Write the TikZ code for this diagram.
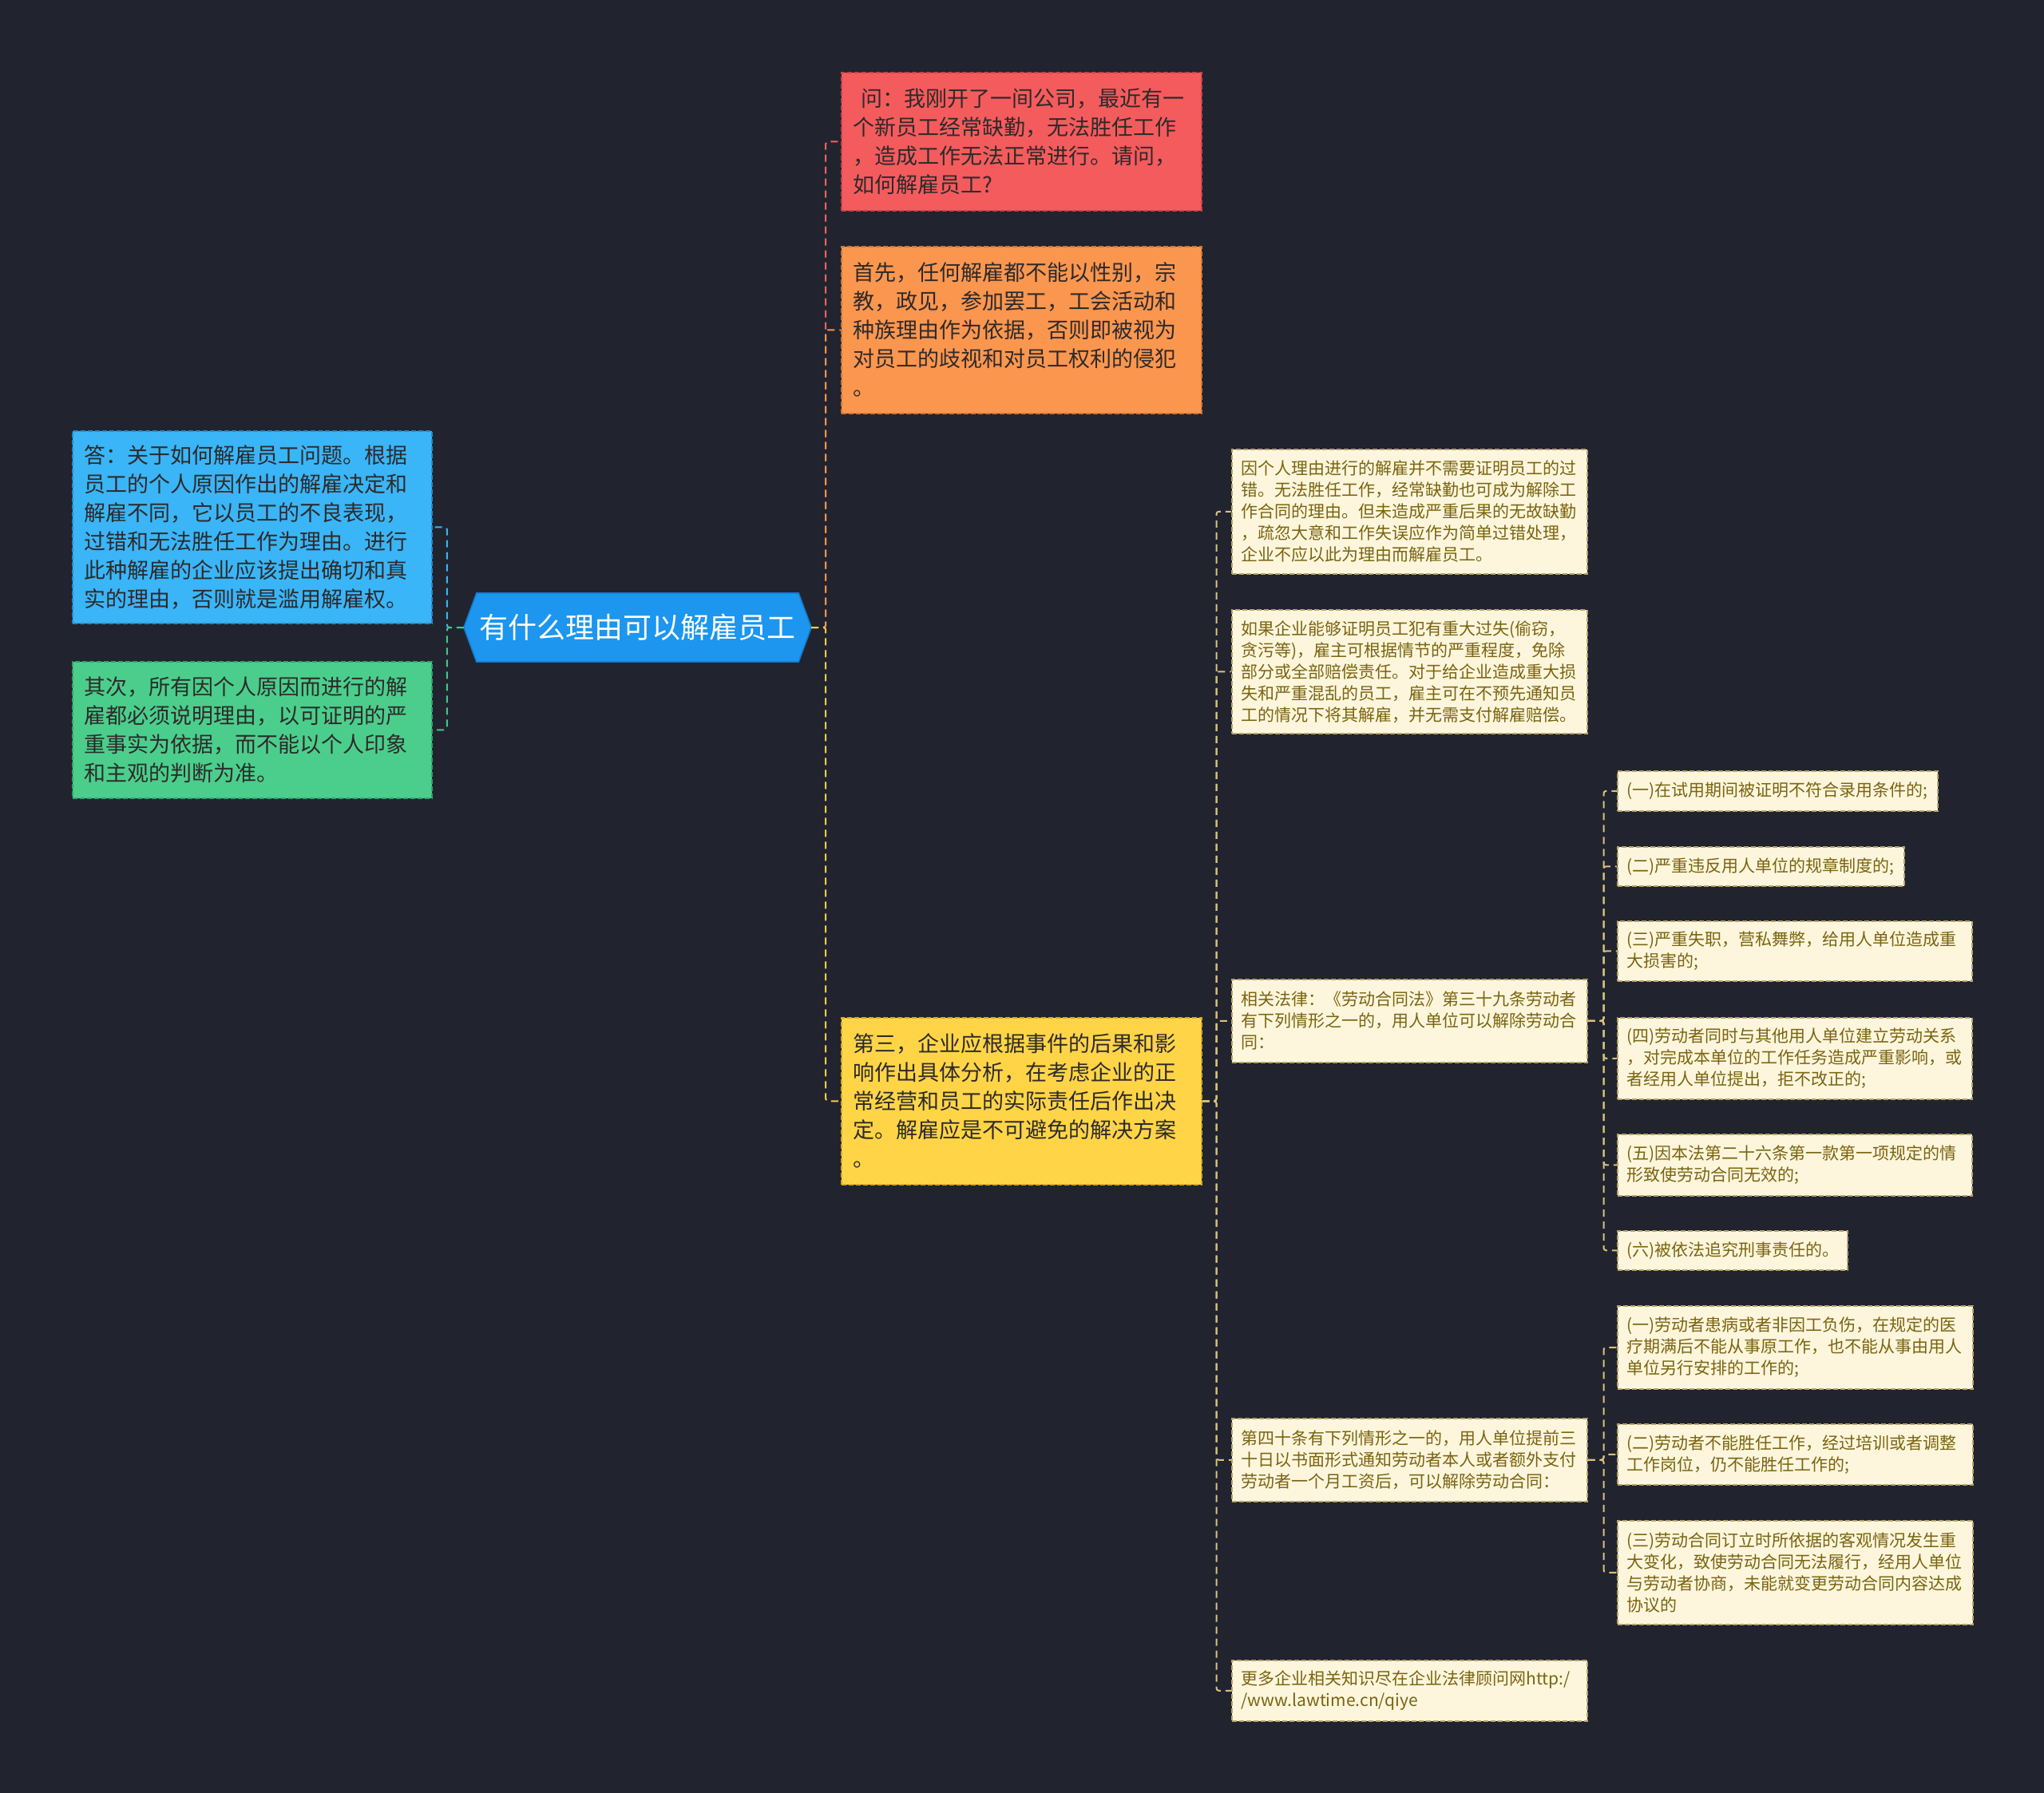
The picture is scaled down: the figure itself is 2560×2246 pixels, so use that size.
\documentclass[tikz,border=0pt]{standalone}
\usepackage{fontspec}
\newfontfamily\cjk{Noto Sans CJK SC}
\usetikzlibrary{backgrounds}
\definecolor{bgc}{HTML}{21242F}
\definecolor{redf}{HTML}{F45B5D}
\definecolor{redd}{HTML}{C94446}
\definecolor{orf}{HTML}{FB964F}
\definecolor{ord}{HTML}{D27634}
\definecolor{yef}{HTML}{FFD547}
\definecolor{yed}{HTML}{D4AA28}
\definecolor{blf}{HTML}{3AB5F7}
\definecolor{bld}{HTML}{2389CC}
\definecolor{grf}{HTML}{4BCE8C}
\definecolor{grd}{HTML}{30A36B}
\definecolor{rootf}{HTML}{1C96EF}
\definecolor{rootd}{HTML}{1479C8}
\definecolor{crf}{HTML}{FDF6DD}
\definecolor{crd}{HTML}{B8A36A}
\definecolor{crt}{HTML}{7A6410}
\definecolor{dkt}{HTML}{2D2A2A}
\definecolor{redc}{HTML}{F06262}
\definecolor{orc}{HTML}{F39450}
\definecolor{yec}{HTML}{F5CC45}
\definecolor{blc}{HTML}{3AB4F5}
\definecolor{grc}{HTML}{45C585}
\definecolor{crc}{HTML}{D9C27C}
\begin{document}
\begin{tikzpicture}[x=1pt,y=-1pt,
  boxbase/.style={rectangle, anchor=north west, inner xsep=15pt, inner ysep=3pt, align=left, line width=1.5pt, dash pattern=on 6pt off 3pt},
  bigtext/.style={font=\cjk\fontsize{27}{36}\selectfont, text=dkt},
  smalltext/.style={font=\cjk\fontsize{21}{27}\selectfont, text=crt},
  redbox/.style={boxbase, bigtext, fill=redf, draw=redd},
  orbox/.style={boxbase, bigtext, fill=orf, draw=ord},
  yebox/.style={boxbase, bigtext, fill=yef, draw=yed},
  blbox/.style={boxbase, bigtext, fill=blf, draw=bld},
  grbox/.style={boxbase, bigtext, fill=grf, draw=grd},
  crbox/.style={boxbase, smalltext, fill=crf, draw=crd, inner xsep=12pt},
  rootnode/.style={rectangle, inner sep=0pt, font=\cjk\fontsize{36}{42}\selectfont, text=white},
  conn/.style={line width=2pt, dash pattern=on 9pt off 6pt, rounded corners=3pt}
]
\begin{pgfonlayer}{background}
\fill[bgc] (0,0) rectangle (2560,2246);
\end{pgfonlayer}
\useasboundingbox (0,0) rectangle (2560,2246);

% root
\node[rootnode, minimum width=435pt, minimum height=86pt] (root) at (798.5,786) {有什么理由可以解雇员工};
\begin{pgfonlayer}{background}
\filldraw[fill=rootf, draw=rootd, line width=1.5pt] (root.west) -- ([xshift=16pt]root.north west) -- ([xshift=-16pt]root.north east) -- (root.east) -- ([xshift=-16pt]root.south east) -- ([xshift=16pt]root.south west) -- cycle;
\end{pgfonlayer}

% first level right
\node[redbox, minimum width=451pt, minimum height=173pt, text width=421pt] (q) at (1053,90)
{\hspace{0.35em}问：我刚开了一间公司，最近有一\\个新员工经常缺勤，无法胜任工作\\，造成工作无法正常进行。请问，\\如何解雇员工?};
\node[orbox, minimum width=451pt, minimum height=209pt, text width=421pt] (o) at (1053,308)
{首先，任何解雇都不能以性别，宗\\教，政见，参加罢工，工会活动和\\种族理由作为依据，否则即被视为\\对员工的歧视和对员工权利的侵犯\\。};
\node[yebox, minimum width=451pt, minimum height=209pt, text width=421pt] (y3) at (1053,1274)
{第三，企业应根据事件的后果和影\\响作出具体分析，在考虑企业的正\\常经营和员工的实际责任后作出决\\定。解雇应是不可避免的解决方案\\。};

% first level left
\node[blbox, minimum width=450pt, minimum height=241pt, text width=420pt] (bl) at (90,539)
{答：关于如何解雇员工问题。根据\\员工的个人原因作出的解雇决定和\\解雇不同，它以员工的不良表现，\\过错和无法胜任工作为理由。进行\\此种解雇的企业应该提出确切和真\\实的理由，否则就是滥用解雇权。};
\node[grbox, minimum width=450pt, minimum height=171pt, text width=420pt] (gr) at (90,828)
{其次，所有因个人原因而进行的解\\雇都必须说明理由，以可证明的严\\重事实为依据，而不能以个人印象\\和主观的判断为准。};

% second level
\node[crbox, minimum width=445pt, minimum height=156pt, text width=421pt] (a1) at (1542,562)
{因个人理由进行的解雇并不需要证明员工的过\\错。无法胜任工作，经常缺勤也可成为解除工\\作合同的理由。但未造成严重后果的无故缺勤\\，疏忽大意和工作失误应作为简单过错处理，\\企业不应以此为理由而解雇员工。};
\node[crbox, minimum width=445pt, minimum height=155pt, text width=421pt] (a2) at (1542,763)
{如果企业能够证明员工犯有重大过失(偷窃，\\贪污等)，雇主可根据情节的严重程度，免除\\部分或全部赔偿责任。对于给企业造成重大损\\失和严重混乱的员工，雇主可在不预先通知员\\工的情况下将其解雇，并无需支付解雇赔偿。};
\node[crbox, minimum width=445pt, minimum height=104pt, text width=421pt] (a3) at (1542,1226)
{相关法律：《劳动合同法》第三十九条劳动者\\有下列情形之一的，用人单位可以解除劳动合\\同：};
\node[crbox, minimum width=445pt, minimum height=104pt, text width=421pt] (a4) at (1542,1776)
{第四十条有下列情形之一的，用人单位提前三\\十日以书面形式通知劳动者本人或者额外支付\\劳动者一个月工资后，可以解除劳动合同：};
\node[crbox, minimum width=445pt, minimum height=76pt, text width=421pt] (a5) at (1542,2079)
{更多企业相关知识尽在企业法律顾问网http:/\\/www.lawtime.cn/qiye};

% third level (39)
\node[crbox, minimum width=401pt, minimum height=50pt, text width=377pt] (b1) at (2025,965)
{(一)在试用期间被证明不符合录用条件的;};
\node[crbox, minimum width=359pt, minimum height=49pt, text width=335pt] (b2) at (2025,1060)
{(二)严重违反用人单位的规章制度的;};
\node[crbox, minimum width=444pt, minimum height=75pt, text width=420pt] (b3) at (2025,1153)
{(三)严重失职，营私舞弊，给用人单位造成重\\大损害的;};
\node[crbox, minimum width=444pt, minimum height=102pt, text width=420pt] (b4) at (2025,1274)
{(四)劳动者同时与其他用人单位建立劳动关系\\，对完成本单位的工作任务造成严重影响，或\\者经用人单位提出，拒不改正的;};
\node[crbox, minimum width=444pt, minimum height=77pt, text width=420pt] (b5) at (2025,1420)
{(五)因本法第二十六条第一款第一项规定的情\\形致使劳动合同无效的;};
\node[crbox, minimum width=288pt, minimum height=49pt, text width=264pt] (b6) at (2025,1541)
{(六)被依法追究刑事责任的。};

% third level (40)
\node[crbox, minimum width=445pt, minimum height=104pt, text width=421pt] (c1) at (2025,1635)
{(一)劳动者患病或者非因工负伤，在规定的医\\疗期满后不能从事原工作，也不能从事由用人\\单位另行安排的工作的;};
\node[crbox, minimum width=445pt, minimum height=76pt, text width=421pt] (c2) at (2025,1783)
{(二)劳动者不能胜任工作，经过培训或者调整\\工作岗位，仍不能胜任工作的;};
\node[crbox, minimum width=445pt, minimum height=130pt, text width=421pt] (c3) at (2025,1904)
{(三)劳动合同订立时所依据的客观情况发生重\\大变化，致使劳动合同无法履行，经用人单位\\与劳动者协商，未能就变更劳动合同内容达成\\协议的};

% connectors from root
\draw[conn, draw=redc] (root.east) -- ++(18,0) |- (q.west);
\draw[conn, draw=orc] (root.east) -- ++(18,0) |- (o.west);
\draw[conn, draw=yec] (root.east) -- ++(18,0) |- (y3.west);
\draw[conn, draw=blc] (root.west) -- ++(-21,0) |- (bl.east);
\draw[conn, draw=grc] (root.west) -- ++(-21,0) |- (gr.east);

% connectors from third
\foreach \t in {a1,a2,a3,a4,a5}
  \draw[conn, draw=crc] (y3.east) -- ++(18,0) |- (\t.west);
\foreach \t in {b1,b2,b3,b4,b5,b6}
  \draw[conn, draw=crc] (a3.east) -- ++(20,0) |- (\t.west);
\foreach \t in {c1,c2,c3}
  \draw[conn, draw=crc] (a4.east) -- ++(20,0) |- (\t.west);
\end{tikzpicture}
\end{document}
